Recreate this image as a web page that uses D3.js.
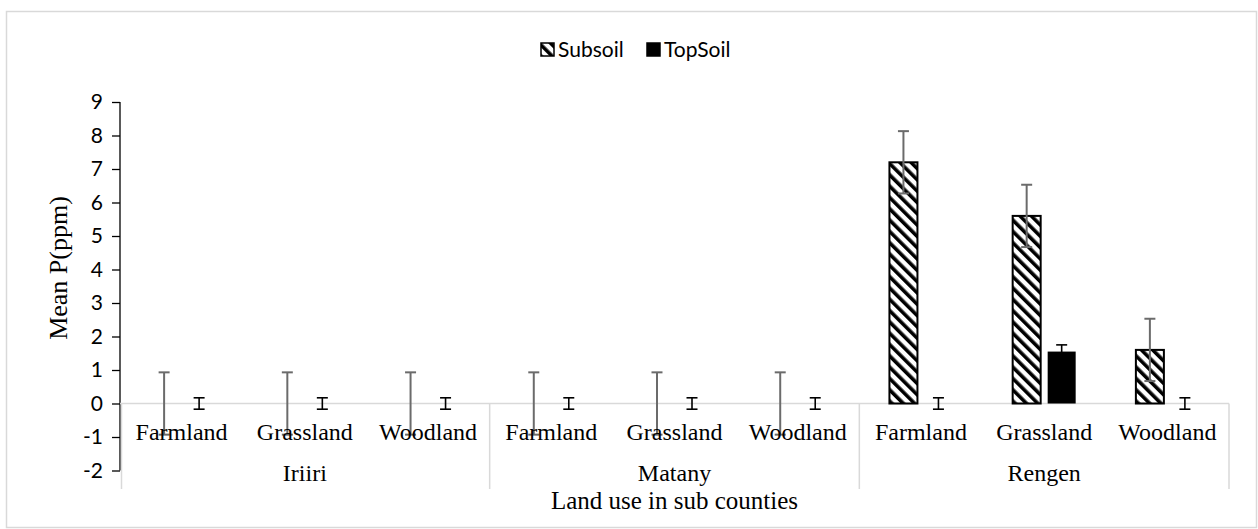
<!DOCTYPE html>
<html>
<head>
<meta charset="utf-8">
<script src="https://cdn.jsdelivr.net/npm/d3@7/dist/d3.min.js"></script>
<style>
  html, body { margin: 0; padding: 0; background: #fff; }
  svg { display: block; }
</style>
</head>
<body>
<svg id="chart" width="1258" height="529"></svg>
<script>
// Sub counties and the land-use classes within each
const subCounties = ["Iriiri", "Matany", "Rengen"];
const landUses = ["Farmland", "Grassland", "Woodland"];
const seriesNames = ["Subsoil", "TopSoil"];

// Mean P (ppm), one value per sub county × land use (in order)
const subsoilMean = [0, 0, 0, 0, 0, 0, 7.2, 5.6, 1.6];
const topsoilMean = [0, 0, 0, 0, 0, 0, 0, 1.55, 0];
// Error bar half-widths
const subsoilErr = [0.93, 0.93, 0.93, 0.93, 0.93, 0.93, 0.93, 0.93, 0.93];
const topsoilErr = [0.17, 0.17, 0.17, 0.17, 0.17, 0.17, 0.17, 0.2, 0.17];

const yTicks = [-2, -1, 0, 1, 2, 3, 4, 5, 6, 7, 8, 9];

const svg = d3.select("#chart");
const W = 1258, H = 529;
const plot = { left: 120, right: 1229, top: 102, bottom: 470.5 };

// Outer frame
svg.append("rect")
  .attr("x", 6.5).attr("y", 11.5)
  .attr("width", W - 8).attr("height", H - 13)
  .attr("fill", "#fff").attr("stroke", "#d9d9d9").attr("stroke-width", 1.5);

// Diagonal stripe fill for the subsoil series
const defs = svg.append("defs");
const pat = defs.append("pattern")
  .attr("id", "stripes")
  .attr("patternUnits", "userSpaceOnUse")
  .attr("width", 8).attr("height", 8)
  .attr("patternTransform", "rotate(-45)");
pat.append("rect").attr("width", 8).attr("height", 8).attr("fill", "#fff");
pat.append("rect").attr("width", 3.6).attr("height", 8).attr("fill", "#000");

// Scales
const cats = d3.range(subCounties.length * landUses.length);
const x0 = d3.scaleBand().domain(cats).range([plot.left, plot.right]).padding(0);
const x1 = d3.scaleBand().domain(seriesNames).range([0, x0.bandwidth()])
  .paddingInner(0.2).paddingOuter(0.86);
const y = d3.scaleLinear().domain([-2, 9]).range([plot.bottom, plot.top]);

// Rows of data built from the arrays above
const rows = cats.map(i => ({
  idx: i,
  values: [
    { key: "Subsoil", v: subsoilMean[i], e: subsoilErr[i] },
    { key: "TopSoil", v: topsoilMean[i], e: topsoilErr[i] }
  ]
}));

// Y axis (plain hyphen for negatives)
const yAxis = d3.axisLeft(y).tickValues(yTicks).tickSize(8).tickPadding(9)
  .tickFormat(d => String(d));
const gy = svg.append("g").attr("transform", `translate(${plot.left},0)`).call(yAxis);
gy.select(".domain").remove();
gy.append("line")
  .attr("x1", 0).attr("x2", 0)
  .attr("y1", y(9)).attr("y2", y(-2))
  .attr("stroke", "#000").attr("stroke-width", 1.3);
gy.selectAll(".tick line").attr("stroke", "#000").attr("stroke-width", 1.3);
gy.selectAll(".tick text")
  .attr("font-family", "Lato, 'Open Sans', sans-serif")
  .attr("font-size", 21).attr("fill", "#000");

// Zero line and category axis frame
const catAxisBottom = 489;
svg.append("line")
  .attr("x1", plot.left).attr("x2", plot.right)
  .attr("y1", y(0)).attr("y2", y(0))
  .attr("stroke", "#d9d9d9").attr("stroke-width", 1.5);
const groupEdges = d3.range(subCounties.length + 1).map(g => plot.left + g * landUses.length * x0.bandwidth());
svg.selectAll(".gsep").data(groupEdges).join("line")
  .attr("x1", d => d + (d === plot.left ? 1.5 : 0)).attr("x2", d => d + (d === plot.left ? 1.5 : 0))
  .attr("y1", y(0)).attr("y2", catAxisBottom)
  .attr("stroke", "#d9d9d9").attr("stroke-width", 1.5);

// Bars
const groups = svg.append("g").selectAll("g").data(rows).join("g")
  .attr("transform", d => `translate(${x0(d.idx)},0)`);

groups.selectAll("rect").data(d => d.values.filter(v => v.v > 0)).join("rect")
  .attr("x", d => x1(d.key))
  .attr("width", x1.bandwidth())
  .attr("y", d => y(d.v))
  .attr("height", d => y(0) - y(d.v))
  .attr("fill", d => d.key === "Subsoil" ? "url(#stripes)" : "#000")
  .attr("stroke", "#000")
  .attr("stroke-width", d => d.key === "Subsoil" ? 2 : 0);

// Error bars
const capW = 11;
groups.each(function(d) {
  const g = d3.select(this);
  d.values.forEach(s => {
    const cx = x1(s.key) + x1.bandwidth() / 2;
    const col = s.key === "Subsoil" ? "#6b6b6b" : "#000";
    const sw = s.key === "Subsoil" ? 2 : 1.6;
    const eb = g.append("g").attr("stroke", col).attr("stroke-width", sw);
    eb.append("line").attr("x1", cx).attr("x2", cx)
      .attr("y1", y(s.v + s.e)).attr("y2", y(s.v - s.e));
    [s.v + s.e, s.v - s.e].forEach(val => {
      eb.append("line").attr("x1", cx - capW / 2).attr("x2", cx + capW / 2)
        .attr("y1", y(val)).attr("y2", y(val));
    });
  });
});

// Category labels: land use, then sub county
const serif = "'Liberation Serif', 'Times New Roman', serif";
svg.selectAll(".lu").data(rows).join("text")
  .attr("x", d => x0(d.idx) + x0.bandwidth() / 2)
  .attr("y", 440)
  .attr("text-anchor", "middle")
  .attr("font-family", serif).attr("font-size", 24).attr("fill", "#000")
  .text(d => landUses[d.idx % landUses.length]);

svg.selectAll(".sc").data(subCounties).join("text")
  .attr("x", (d, i) => (groupEdges[i] + groupEdges[i + 1]) / 2)
  .attr("y", 481)
  .attr("text-anchor", "middle")
  .attr("font-family", serif).attr("font-size", 24).attr("fill", "#000")
  .text(d => d);

// Axis titles
svg.append("text")
  .attr("x", (groupEdges[1] + groupEdges[2]) / 2)
  .attr("y", 509)
  .attr("text-anchor", "middle")
  .attr("font-family", serif).attr("font-size", 25).attr("fill", "#000")
  .text("Land use in sub counties");

svg.append("text")
  .attr("transform", "translate(67,268) rotate(-90)")
  .attr("text-anchor", "middle")
  .attr("font-family", serif).attr("font-size", 26).attr("fill", "#000")
  .text("Mean P(ppm)");

// Legend
const legend = svg.append("g").attr("transform", "translate(0,49.5)");
const legendItems = [
  { name: seriesNames[0], x: 541, fill: "url(#stripes)" },
  { name: seriesNames[1], x: 647, fill: "#000" }
];
legendItems.forEach(it => {
  legend.append("rect")
    .attr("x", it.x).attr("y", -6.5).attr("width", 13).attr("height", 13)
    .attr("fill", it.fill).attr("stroke", "#000").attr("stroke-width", 1.5);
  legend.append("text")
    .attr("x", it.x + 17).attr("y", 7.5)
    .attr("font-family", "Lato, 'Open Sans', sans-serif")
    .attr("font-size", 21).attr("fill", "#000")
    .text(it.name);
});
</script>
</body>
</html>
